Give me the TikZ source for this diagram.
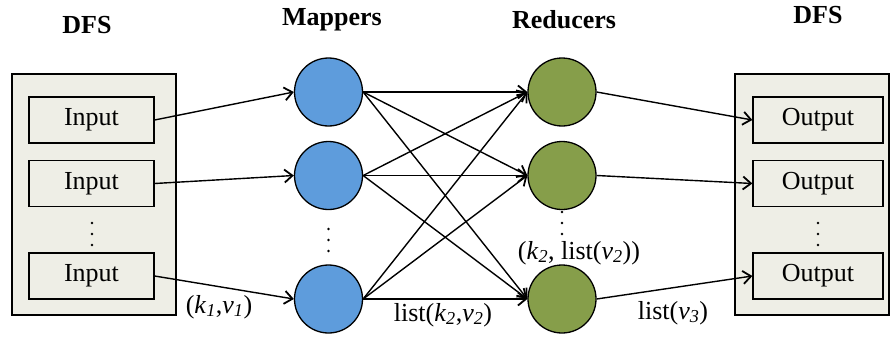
\documentclass[tikz,border=0pt]{standalone}
\usepackage{fontspec}
\setmainfont{Liberation Serif}
\usetikzlibrary{arrows.meta}
\newcommand\ssub[1]{\textsubscript{\itshape #1}}
\definecolor{storefill}{HTML}{EEEEE6}
\definecolor{mapfill}{HTML}{5E9CDC}
\definecolor{redfill}{HTML}{869E4A}
\tikzset{
  every node/.style={font=\fontsize{26}{30}\selectfont},
  store/.style={draw, line width=1.3pt, fill=storefill, inner sep=0pt},
  filebox/.style={draw, line width=1.3pt, fill=storefill, minimum height=46pt, inner sep=0pt},
  worker/.style={circle, draw, line width=1.3pt, minimum size=68pt, inner sep=0pt},
  flow/.style={line width=1.4pt, -{Straight Barb[length=8pt,width=13pt,line width=1.8pt]}},
  title/.style={font=\fontsize{26}{30}\selectfont\bfseries},
  dot/.style={fill=black}
}
\begin{document}
\begin{tikzpicture}[x=1pt, y=-1pt]
\useasboundingbox (0,0) rectangle (890,337);

% distributed file system containers
\node[store, minimum width=164pt, minimum height=241pt] (dfsL) at (94,194.5) {};
\node[store, minimum width=154pt, minimum height=241pt] (dfsR) at (812,194.5) {};

% input and output splits
\node[filebox, minimum width=125pt] (in1) at (91.5,120) {Input};
\node[filebox, minimum width=125pt] (in2) at (91.5,183.5) {Input};
\node[filebox, minimum width=125pt] (in3) at (91.5,276) {Input};
\node[filebox, minimum width=130pt] (out1) at (818,120) {Output};
\node[filebox, minimum width=130pt] (out2) at (818,183.5) {Output};
\node[filebox, minimum width=130pt] (out3) at (818,276) {Output};

% mappers and reducers
\node[worker, fill=mapfill] (m1) at (328.5,92) {};
\node[worker, fill=mapfill] (m2) at (328.5,175.5) {};
\node[worker, fill=mapfill] (m3) at (328.5,299) {};
\node[worker, fill=redfill] (r1) at (562,92) {};
\node[worker, fill=redfill] (r2) at (562,175.5) {};
\node[worker, fill=redfill] (r3) at (562,299) {};

% column titles
\node[title] (tDfsL) at (87,25) {DFS};
\node[title] (tMap) at (332,20) {Mappers};
\node[title] (tRed) at (564,20) {Reducers};
\node[title] (tDfsR) at (818,15) {DFS};

% vertical ellipses
\foreach \x/\y in {92/223, 328.5/229, 562/212, 818/223}{
  \foreach \d in {0,11,22}{
    \fill[dot] (\x,\y+\d) circle (1.3pt);
  }
}

% inputs to mappers
\draw[flow] (in1.east) -- (m1.west);
\draw[flow] (in2.east) -- (m2.west);
\draw[flow] (in3.east) -- (m3.west);

% shuffle: every mapper to every reducer
\foreach \m in {m1,m2,m3}{
  \foreach \r in {r1,r2,r3}{
    \draw[flow] (\m.east) -- (\r.west);
  }
}

% reducers to outputs
\draw[flow] (r1.east) -- (out1.west);
\draw[flow] (r2.east) -- (out2.west);
\draw[flow] (r3.east) -- (out3.west);

% key/value labels
\node (kv1) at (219,307) {(\textit{k}\ssub{1},\textit{v}\ssub{1})};
\node (kv2) at (443,315) {list(\textit{k}\ssub{2},\textit{v}\ssub{2})};
\node (kv2l) at (579,253) {(\textit{k}\ssub{2}, list(\textit{v}\ssub{2}))};
\node (v3) at (673,313) {list(\textit{v}\ssub{3})};
\end{tikzpicture}
\end{document}
